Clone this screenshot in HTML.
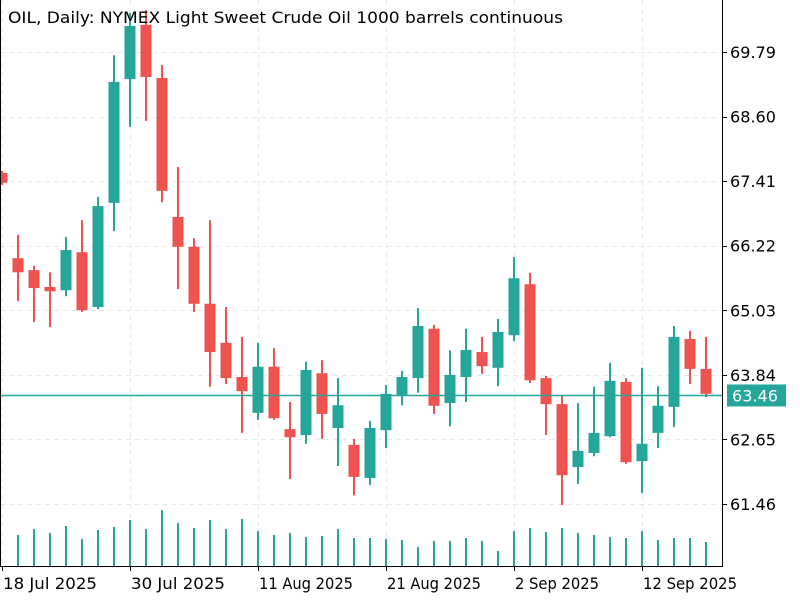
<!DOCTYPE html>
<html><head><meta charset="utf-8"><style>
html,body{margin:0;padding:0;background:#fff;}
svg{display:block;font-family:"DejaVu Sans","Liberation Sans",sans-serif;}
</style></head><body>
<svg id="chart" width="800" height="600" viewBox="0 0 800 600" xmlns="http://www.w3.org/2000/svg">
<rect width="800" height="600" fill="#fff"/>
<g id="grid"></g><g id="vol"></g><g id="candles"></g><g id="axes"></g>
<text x="8" y="23" font-size="16" fill="#000" textLength="555" lengthAdjust="spacingAndGlyphs">OIL, Daily:  NYMEX Light Sweet Crude Oil 1000 barrels continuous</text>
</svg>
<script>
const opens  = [67.56,65.99,65.77,65.46,65.40,66.10,65.09,67.01,69.29,70.29,69.31,66.75,66.20,65.15,64.43,63.80,63.14,63.99,62.84,62.73,63.87,62.86,62.55,61.94,62.82,63.45,63.78,64.69,63.32,63.80,64.26,63.97,64.57,65.51,63.78,63.30,62.14,62.40,62.71,63.71,62.25,62.77,63.25,64.50,63.95];
const highs  = [67.60,66.42,65.85,65.73,66.38,66.69,67.12,69.73,70.51,70.56,69.55,67.67,66.36,66.69,65.09,64.54,64.43,64.33,63.34,64.08,64.11,63.78,62.66,62.99,63.65,63.91,65.07,64.76,64.29,64.69,64.54,64.87,66.01,65.72,63.82,63.47,63.32,63.62,64.06,63.78,63.97,63.63,64.74,64.65,64.54];
const lows   = [67.34,65.20,64.81,64.72,65.29,65.00,65.05,66.49,68.41,68.52,67.02,65.42,65.00,63.62,63.67,62.77,63.01,63.01,61.92,62.57,62.66,62.16,61.62,61.81,62.49,63.28,63.51,63.12,62.89,63.34,63.86,63.63,64.46,63.69,62.73,61.44,61.83,62.34,62.69,62.20,61.66,62.49,62.88,63.67,63.43];
const closes = [67.38,65.73,65.44,65.38,66.14,65.03,66.95,69.24,70.27,69.33,67.23,66.20,65.15,64.26,63.78,63.54,63.99,63.04,62.69,63.93,63.12,63.28,61.96,62.86,63.49,63.80,64.74,63.27,63.84,64.30,64.00,64.63,65.62,63.74,63.30,61.99,62.44,62.77,63.73,62.23,62.57,63.27,64.54,63.95,63.49];
const volumes = [0,31,37,33,40,27,36,39,46,37,56,43,38,46,37,47,35,31,33,29,30,37,28,28,27,26,19,25,25,28,25,15,35,38,34,38,33,31,29,28,35,26,28,28,24];
const priceTicks = [69.79,68.60,67.41,66.22,65.03,63.84,62.65,61.46];
const dateLabels = ["18 Jul 2025","30 Jul 2025","11 Aug 2025","21 Aug 2025","2 Sep 2025","12 Sep 2025"];
const dateIdx = [0,8,16,24,32,40];
const lastPrice = 63.46;

const NS="http://www.w3.org/2000/svg";
const PR=722, PB=566;
function y(p){return 52+(69.79-p)*54.26;}
function x(i){return 2+16*i;}
function vy(v){return PB-v;}
function mk(tag,attrs,parent){const e=document.createElementNS(NS,tag);for(const k in attrs)e.setAttribute(k,attrs[k]);document.getElementById(parent).appendChild(e);return e;}

priceTicks.forEach((p,k)=>{
  const yy=Math.round(y(p))+0.5;
  const g=mk('line',{x1:0,x2:PR,y1:yy,y2:yy,stroke:'#e8e8e8','stroke-dasharray':'5,4'},'grid');
  
  
  const t=mk('line',{x1:PR,x2:PR+5,y1:yy,y2:yy,stroke:'#000'},'axes');
  
  
  const l=mk('text',{x:PR+8,y:y(p)+6,'font-size':'16',fill:'#000',textLength:'46',lengthAdjust:'spacingAndGlyphs'},'axes');
  l.textContent=p.toFixed(2);
  
  
});
dateIdx.forEach((i,k)=>{
  const g=mk('line',{x1:x(i)+0.5,x2:x(i)+0.5,y1:0,y2:PB,stroke:'#e8e8e8','stroke-dasharray':'5,4'},'grid');
  
  
  const t=mk('line',{x1:x(i)+0.5,x2:x(i)+0.5,y1:PB,y2:PB+5,stroke:'#000'},'axes');
  
  
  const len=dateLabels[k].length===11?94:84;
  const l=mk('text',{x:x(i)+1,y:589,'font-size':'16',fill:'#000',textLength:String(len),lengthAdjust:'spacingAndGlyphs'},'axes');
  l.textContent=dateLabels[k];
  
  
});
volumes.forEach((v,i)=>{
  if(v<=0)return;
  const r=mk('rect',{x:x(i)-1,y:vy(v),width:2,height:v,fill:'#26a69a'},'vol');
  
  
});
opens.forEach((o,i)=>{
  const c=closes[i], up=c>=o, col=up?'#26a69a':'#ef5350';
  const w=mk('rect',{x:x(i)-1,y:y(highs[i]),width:2,height:y(lows[i])-y(highs[i]),fill:col},'candles');
  
  
  const top=y(Math.max(o,c)), bot=y(Math.min(o,c));
  const b=mk('rect',{x:x(i)-5.5,y:top,width:11,height:Math.max(1,bot-top),fill:col},'candles');
  
  
});
const ly=Math.round(y(lastPrice))+0.5;
const pl=mk('line',{x1:0,x2:PR,y1:ly,y2:ly,stroke:'#26a69a','stroke-width':1.5},'axes');


const ax=mk('line',{x1:PR+0.5,x2:PR+0.5,y1:0,y2:PB,stroke:'#000'},'axes');


const bx=mk('line',{x1:0,x2:PR+1,y1:PB+0.5,y2:PB+0.5,stroke:'#000'},'axes');


const lb=mk('line',{x1:0.5,x2:0.5,y1:0,y2:PB,stroke:'#000'},'axes');


const bg=mk('rect',{x:727,y:y(lastPrice)-11,width:59,height:22,fill:'#26a69a'},'axes');


const bt=mk('text',{x:732,y:y(lastPrice)+6,'font-size':'16',fill:'#fff',textLength:'46',lengthAdjust:'spacingAndGlyphs'},'axes');
bt.textContent=lastPrice.toFixed(2);


</script>
</body></html>
